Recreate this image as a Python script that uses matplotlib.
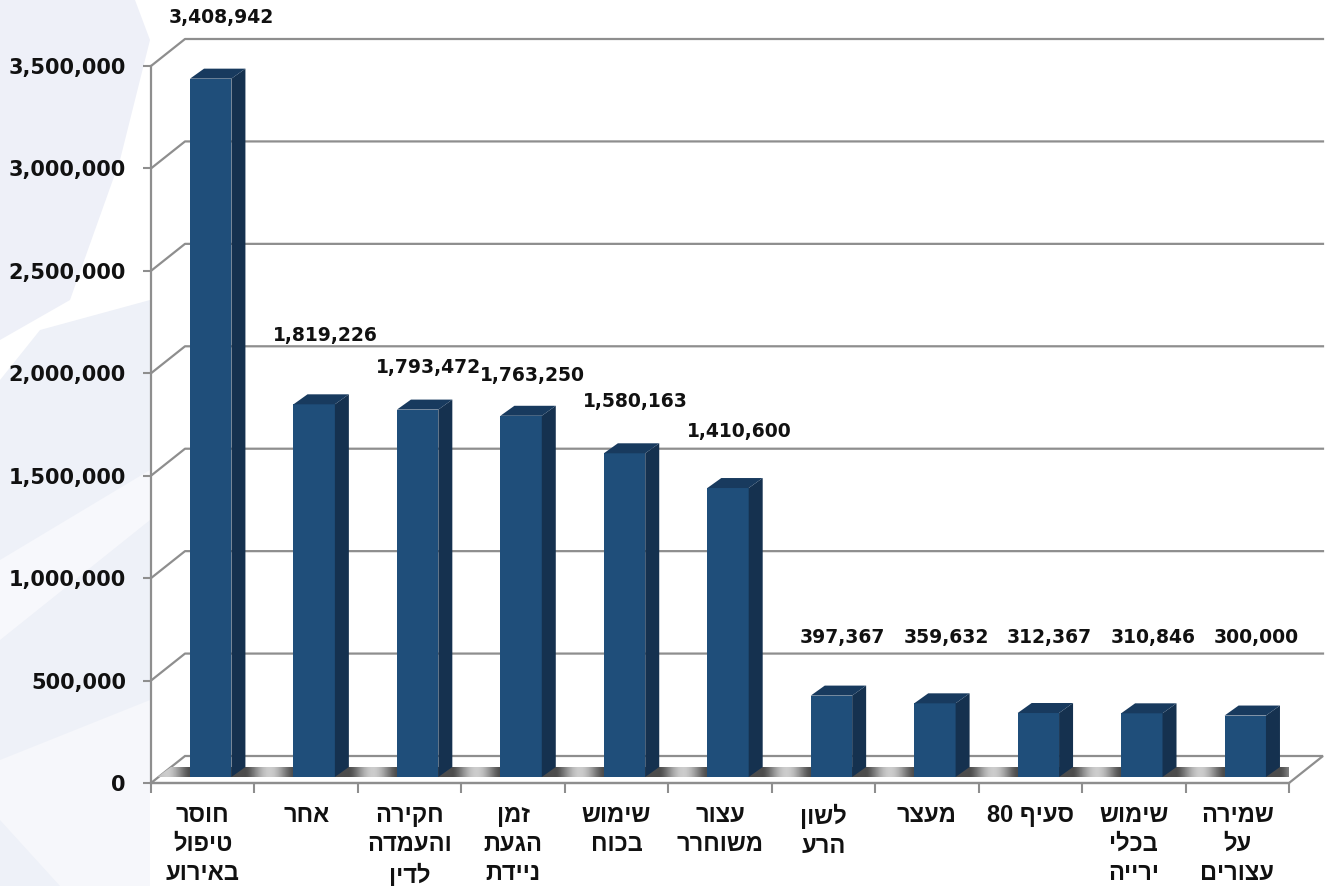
import re
import numpy as np
import matplotlib
matplotlib.use("Agg")
import matplotlib.pyplot as plt
from matplotlib.patches import Polygon

categories = ["חוסר\nטיפול\nבאירוע", "אחר", "חקירה\nוהעמדה\nלדין", "זמן\nהגעת\nניידת",
              "שימוש\nבכוח", "עצור\nמשוחרר", "לשון\nהרע", "מעצר", "סעיף 80",
              "שימוש\nבכלי\nירייה", "שמירה\nעל\nעצורים"]
values = [3408942, 1819226, 1793472, 1763250, 1580163, 1410600,
          397367, 359632, 312367, 310846, 300000]
yticks = np.arange(0, 3500001, 500000)
# pixel rows of the value labels in the original picture
label_rows = [17, 335, 368, 375, 401, 431, 637, 637, 637, 637, 637]


def visual(s):
    # matplotlib has no bidi support, flip each line by hand (keep digits in order)
    out = []
    for line in s.split("\n"):
        r = line[::-1]
        r = re.sub(r"\d+", lambda m: m.group(0)[::-1], r)
        out.append(r)
    return "\n".join(out)


W, H = 1333, 886
front_c = "#1f4e7a"
side_c = "#15314f"
top_c = "#183a5e"
grid_c = "#8e8e8e"
heb_font = ["Liberation Sans", "DejaVu Sans"]

fig = plt.figure(figsize=(W / 100, H / 100), dpi=100)
fig.patch.set_facecolor("white")


# faint watermark shapes behind the chart
def fig_poly(pts, color, alpha=1.0):
    p = Polygon([(x / W, 1 - y / H) for x, y in pts], closed=True, transform=fig.transFigure,
                facecolor=color, edgecolor="none", alpha=alpha, zorder=-10)
    fig.add_artist(p)


fig_poly([(0, 0), (135, 0), (150, 40), (120, 160), (70, 300), (0, 340)], "#eef0f8")
fig_poly([(0, 380), (40, 330), (150, 300), (150, 886), (0, 886)], "#eef1f8")
fig_poly([(0, 560), (150, 470), (150, 520), (0, 640)], "#f7f8fc")
fig_poly([(0, 760), (150, 700), (150, 886), (60, 886), (0, 820)], "#f6f7fb")

n = len(values)
ax = fig.add_axes([151 / W, (H - 783) / H, (1289 - 151) / W, (783 - 66) / H])
ax.patch.set_alpha(0)
xu = (1289 - 151) / n          # px per category
yu = (783 - 66) / 3.5e6        # px per unit of value


def px(dx, dy):
    return dx / xu, dy / yu


x = np.arange(n)
gx, gy = px(34, 27)
bx, by = px(8, 6)
sx, sy = px(14, 10)
bw = 0.4

# back wall gridlines with the side wall diagonals
for t in yticks[1:]:
    ax.plot([-0.5, -0.5 + gx, n - 0.5 + gx], [t, t + gy, t + gy], color=grid_c,
            lw=1.6, clip_on=False, zorder=1)

# floor
floor = Polygon([(-0.5, 0), (n - 0.5, 0), (n - 0.5 + gx, gy), (-0.5 + gx, gy)], closed=True,
                facecolor="white", edgecolor=grid_c, lw=1.6, clip_on=False, zorder=1)
ax.add_patch(floor)

# shadow band on the floor, gradient in each gap between bars
d1x, d1y = px(6, 6)
d2x, d2y = px(20, 16)
band = Polygon([(-0.5 + d1x, d1y), (n - 0.5 + d1x, d1y), (n - 0.5 + d2x, d2y), (-0.5 + d2x, d2y)],
               closed=True, facecolor="none", edgecolor="none", transform=ax.transData)
ax.add_patch(band)
gxs = np.linspace(-0.5, n - 0.5 + gx, 2000)
gap = 1 - bw - sx
tt = np.clip(np.mod(gxs - (bw / 2 + bx + sx), 1.0) / gap, 0, 1)
shade = 0.3 + 0.5 * np.sin(np.pi * tt) ** 1.5
ax.imshow(np.tile(shade, (4, 1)), cmap="gray", vmin=0, vmax=1, aspect="auto",
          extent=[-0.5, n - 0.5 + gx, d1y, d2y], zorder=2, clip_path=band, interpolation="bilinear")

# bars: front, side and top faces
ax.bar(x + bx, values, width=bw, bottom=by, color=front_c, zorder=3, clip_on=False)
for i, v in enumerate(values):
    r = i + bw / 2 + bx
    l = i - bw / 2 + bx
    top = v + by
    ax.add_patch(Polygon([(r, by), (r, top), (r + sx, top + sy), (r + sx, by + sy)],
                         closed=True, facecolor=side_c, edgecolor="none", zorder=3, clip_on=False))
    ax.add_patch(Polygon([(l, top), (r, top), (r + sx, top + sy), (l + sx, top + sy)],
                         closed=True, facecolor=top_c, edgecolor="none", zorder=3, clip_on=False))
    ax.text(i + px(19, 0)[0], (783 - label_rows[i]) / yu, f"{v:,}", ha="center", va="center",
            fontsize=13.5, fontweight="bold", color="#111111", clip_on=False, zorder=5)

ax.set_xlim(-0.5, n - 0.5)
ax.set_ylim(0, 3.5e6)

for s in ["top", "right"]:
    ax.spines[s].set_visible(False)
for s in ["left", "bottom"]:
    ax.spines[s].set_color(grid_c)
    ax.spines[s].set_linewidth(1.6)
    ax.spines[s].set_zorder(4)

ax.set_yticks(yticks)
ax.set_yticklabels([f"{t:,}" for t in yticks], fontsize=15, fontweight="bold", color="#111111")
ax.tick_params(axis="y", length=6, width=1.5, color=grid_c, pad=12)

ax.set_xticks(x)
ax.set_xticklabels([visual(c) for c in categories], fontsize=17, fontweight="bold",
                   family=heb_font, linespacing=1.35, va="top", color="#111111")
ax.set_xticks(np.arange(-0.5, n), minor=True)
ax.tick_params(axis="x", which="major", length=0, pad=15)
ax.tick_params(axis="x", which="minor", length=7, width=1.5, color=grid_c)

fig.savefig("out.png", dpi=100)
